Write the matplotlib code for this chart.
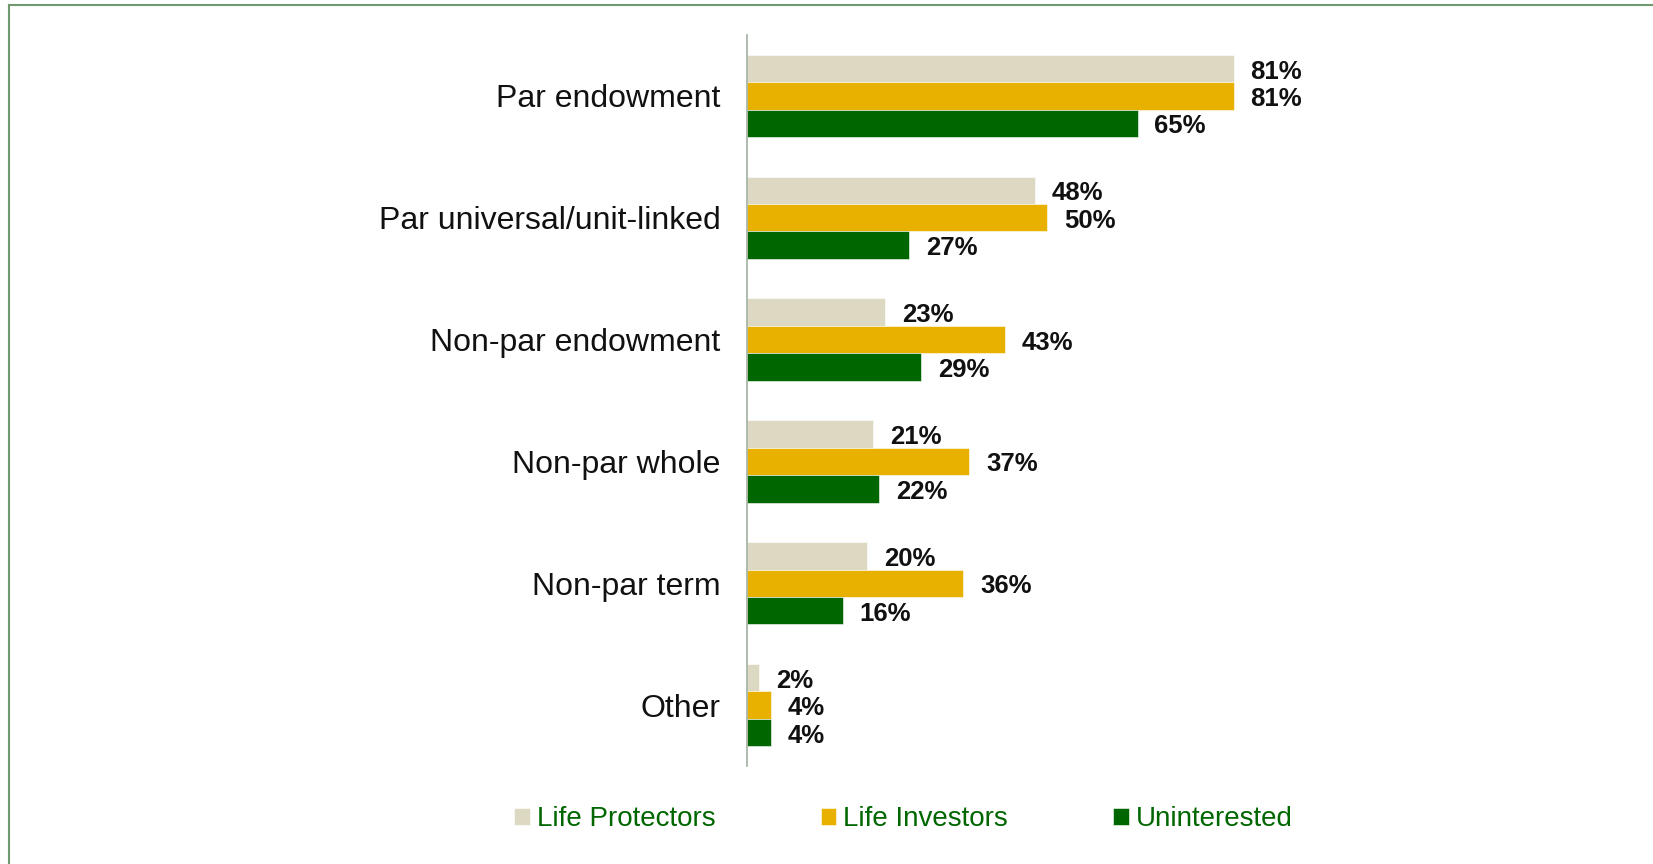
import numpy as np
import matplotlib
matplotlib.use("Agg")
import matplotlib.pyplot as plt
from matplotlib.lines import Line2D

plt.rcParams['font.family'] = ['Liberation Sans', 'DejaVu Sans']

categories = ["Par endowment", "Par universal/unit-linked", "Non-par endowment",
              "Non-par whole", "Non-par term", "Other"]
series_names = ["Life Protectors", "Life Investors", "Uninterested"]
life_protectors = [81, 48, 23, 21, 20, 2]
life_investors = [81, 50, 43, 37, 36, 4]
uninterested = [65, 27, 29, 22, 16, 4]
colors = ["#DDD8C2", "#E8B100", "#006600"]

fig = plt.figure(figsize=(16.53, 8.64), dpi=100)
ax = fig.add_axes([0.4519, 0.1134, 0.4362, 0.8461])

y = np.arange(len(categories))
h = 0.225
bars = []
for k, (vals, name, col) in enumerate(zip([life_protectors, life_investors, uninterested],
                                           series_names, colors)):
    b = ax.barh(y + (k - 1) * h, vals, height=h, color=col, label=name,
                edgecolor="white", linewidth=0.4)
    anns = ax.bar_label(b, labels=[f"{v}%" for v in vals], padding=12,
                        fontsize=18.5, fontweight="bold", color="#111111")
    for a in anns:
        a.xyann = (12, -2.2)   # nudge down a bit like the original
    bars.append(b)

ax.set_xlim(0, 120)
ax.set_ylim(5.5, -0.5)
ax.set_yticks(y)
ax.set_yticklabels(categories, fontsize=23, color="#111111")
ax.tick_params(axis="y", length=0, pad=19)
ax.set_xticks([])
for s in ["top", "right", "bottom"]:
    ax.spines[s].set_visible(False)
ax.spines["left"].set_color("#9FAF9F")
ax.spines["left"].set_linewidth(1.2)

leg = fig.legend(handles=bars, labels=series_names, loc="center",
                 bbox_to_anchor=(0.5465, 0.052), ncol=3, frameon=False,
                 fontsize=20, handlelength=0.55, handleheight=0.55,
                 handletextpad=0.25, columnspacing=3.8)
for t in leg.get_texts():
    t.set_color("#006600")

# outer border of the slide
fig.add_artist(Line2D([0.0054, 0.0054], [0.0, 0.9942], transform=fig.transFigure,
                      color="#6F9A6F", linewidth=1.5))
fig.add_artist(Line2D([0.0054, 1.0], [0.9942, 0.9942], transform=fig.transFigure,
                      color="#6F9A6F", linewidth=1.5))

fig.savefig("out.png", dpi=100, facecolor="white")
